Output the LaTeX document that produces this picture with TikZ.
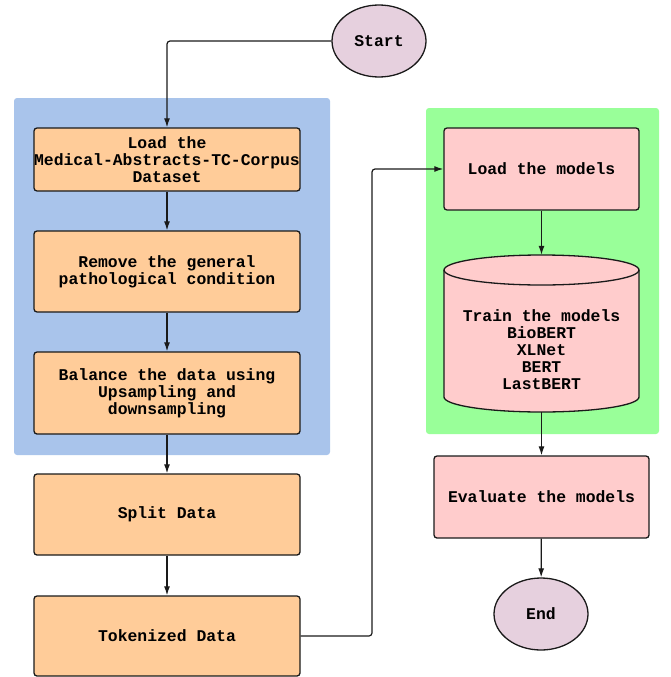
\documentclass[tikz,border=0pt]{standalone}
\usepackage{fontspec}
\setmonofont{Liberation Mono}
\usetikzlibrary{arrows.meta,shapes.geometric}
\definecolor{bluebg}{HTML}{A9C4EB}
\definecolor{greenbg}{HTML}{99FF99}
\definecolor{orangebox}{HTML}{FFCC99}
\definecolor{pinkbox}{HTML}{FFCCCC}
\definecolor{termfill}{HTML}{E6D0DE}
\definecolor{edge}{HTML}{1A1A1A}
\tikzset{
  txt/.style={font=\ttfamily\bfseries\fontsize{16.4}{17}\selectfont, align=center, text=black},
  obox/.style={txt, draw=edge, line width=1.3pt, fill=orangebox, rounded corners=3pt, minimum width=266pt, inner sep=0pt},
  pbox/.style={txt, draw=edge, line width=1.3pt, fill=pinkbox, rounded corners=3pt, inner sep=0pt},
  term/.style={txt, ellipse, draw=edge, line width=1.3pt, fill=termfill, minimum width=94pt, minimum height=72pt, inner sep=0pt},
  conn/.style={draw=edge, line width=1.2pt, -{Latex[length=9pt,width=6pt]}, rounded corners=3pt},
}
\begin{document}
\begin{tikzpicture}[x=1pt,y=-1pt]
\useasboundingbox (0,0) rectangle (670,677);
% backgrounds
\fill[bluebg, rounded corners=3pt] (14,98) rectangle (330,455);
\fill[greenbg, rounded corners=3pt] (426,108) rectangle (659,434);
% left column
\node[term] (start) at (379,41) {Start};
\node[obox, minimum height=63pt] (load) at (167,159.5) {Load the\\Medical-Abstracts-TC-Corpus\\Dataset};
\node[obox, minimum height=81pt] (remove) at (167,271.5) {Remove the general\\pathological condition};
\node[obox, minimum height=82pt] (balance) at (167,393) {Balance the data using\\Upsampling and\\downsampling};
\node[obox, minimum height=81pt] (split) at (167,514.5) {Split Data};
\node[obox, minimum height=80pt] (tok) at (167,636) {Tokenized Data};
% right column
\node[pbox, minimum width=195pt, minimum height=82pt] (models) at (541.5,169) {Load the models};
% cylinder
\filldraw[draw=edge, fill=pinkbox, line width=1.3pt]
  (444,270) -- (444,397) arc[start angle=180,end angle=360,x radius=97.5pt,y radius=15pt]
  -- (639,270) arc[start angle=0,end angle=180,x radius=97.5pt,y radius=15pt] -- cycle;
\draw[draw=edge, line width=1.3pt] (444,270) arc[start angle=180,end angle=360,x radius=97.5pt,y radius=15pt];
\node[minimum width=195pt, minimum height=157pt, inner sep=0pt] (train) at (541.5,333.5) {};
\node[txt] (traintxt) at (541.5,350) {Train the models\\BioBERT\\XLNet\\BERT\\LastBERT};
\node[pbox, minimum width=215pt, minimum height=82pt] (eval) at (541.5,497) {Evaluate the models};
\node[term] (end) at (541,614) {End};
% connectors
\draw[conn] (start.west) -| (load.north);
\draw[conn] (load) -- (remove);
\draw[conn] (remove) -- (balance);
\draw[conn] (balance) -- (split);
\draw[conn] (split) -- (tok);
\coordinate (turn) at (372,636);
\draw[conn] (tok.east) -- (turn) |- (models.west);
\draw[conn] (models) -- (train);
\draw[conn] (train) -- (eval);
\draw[conn] (eval) -- (end);
\end{tikzpicture}
\end{document}
